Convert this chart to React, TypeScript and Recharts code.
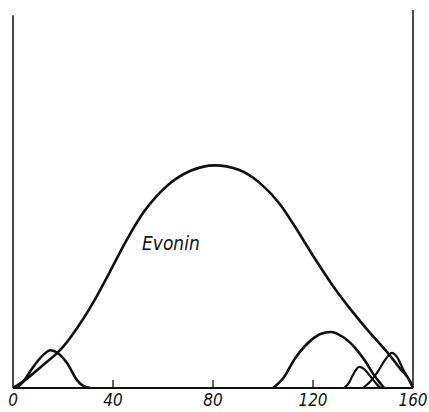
import { LineChart, Line, XAxis, YAxis, ReferenceLine } from 'recharts';

// Evonin main band
const evonin = [
    { x: 0, y: 0 },
    { x: 4, y: 1.7 },
    { x: 8, y: 3.8 },
    { x: 13, y: 6.6 },
    { x: 18, y: 9.5 },
    { x: 20, y: 10.9 },
    { x: 26.8, y: 17 },
    { x: 33.6, y: 24.4 },
    { x: 38.8, y: 30.8 },
    { x: 45.6, y: 39.3 },
    { x: 52, y: 46.3 },
    { x: 57, y: 50.4 },
    { x: 62, y: 53.7 },
    { x: 70.8, y: 57.4 },
    { x: 80.8, y: 58.9 },
    { x: 90, y: 57.8 },
    { x: 98.8, y: 54.2 },
    { x: 106.8, y: 48.6 },
    { x: 112, y: 43.5 },
    { x: 120, y: 35 },
    { x: 128, y: 27 },
    { x: 136, y: 20 },
    { x: 142.8, y: 14.6 },
    { x: 149, y: 10 },
    { x: 155, y: 5 },
    { x: 159, y: 1.6 },
    { x: 160, y: 0 },
];

// small side bands
const peakA = [
    { x: 2, y: 0.3 },
    { x: 4, y: 1.6 },
    { x: 8, y: 5.5 },
    { x: 12, y: 8.7 },
    { x: 15, y: 10 },
    { x: 18, y: 9.2 },
    { x: 21.6, y: 6.6 },
    { x: 25.6, y: 2.1 },
    { x: 28, y: 0.6 },
    { x: 31, y: 0 },
];

const peakB = [
    { x: 104, y: 0 },
    { x: 108, y: 2.5 },
    { x: 113, y: 8 },
    { x: 119.5, y: 12.8 },
    { x: 123, y: 14.3 },
    { x: 127, y: 14.8 },
    { x: 132, y: 13.5 },
    { x: 137, y: 10.5 },
    { x: 141, y: 7 },
    { x: 144, y: 3.8 },
    { x: 147, y: 1.2 },
    { x: 148.5, y: 0 },
];

const peakC = [
    { x: 132.5, y: 0 },
    { x: 134.5, y: 1.5 },
    { x: 136, y: 3.5 },
    { x: 138.5, y: 5.6 },
    { x: 140.5, y: 5 },
    { x: 142.8, y: 3.2 },
    { x: 145.5, y: 1 },
    { x: 147, y: 0 },
];

const peakD = [
    { x: 140, y: 0 },
    { x: 143, y: 1.8 },
    { x: 145.6, y: 4 },
    { x: 148.8, y: 7.4 },
    { x: 151.6, y: 9.3 },
    { x: 153.6, y: 8.2 },
    { x: 156, y: 5 },
    { x: 158.5, y: 2 },
    { x: 160, y: 0 },
];

const xTicks = [0, 40, 80, 120, 160];

const ink = '#111';
const labelFont = "'DejaVu Sans Condensed', 'Liberation Sans Narrow', sans-serif";

const Tick = (props: any) => {
    const { x, y, payload } = props;
    const inner = payload.value > 0 && payload.value < 160;
    return (
        <g>
            {inner && <line x1={x} y1={y} x2={x} y2={y - 8} stroke={ink} strokeWidth={1.3} />}
            <text
                x={x}
                y={y + 18}
                textAnchor="middle"
                fontFamily={labelFont}
                fontStyle="italic"
                fontSize={17}
                fill={ink}
            >
                {payload.value}
            </text>
        </g>
    );
};

const lineProps = {
    type: 'monotone' as const,
    dataKey: 'y',
    stroke: ink,
    strokeWidth: 2.6,
    dot: false,
    activeDot: false,
    isAnimationActive: false,
};

export default function App() {
    return (
        <div style={{ position: 'absolute', left: 0, top: 0, background: '#fff' }}>
            <LineChart width={429} height={412} margin={{ top: 10, right: 16, bottom: 0, left: 13 }}>
                <XAxis
                    type="number"
                    dataKey="x"
                    domain={[0, 160]}
                    ticks={xTicks}
                    height={24}
                    tickSize={0}
                    tickMargin={0}
                    tickLine={false}
                    axisLine={{ stroke: ink, strokeWidth: 2 }}
                    tick={<Tick />}
                    allowDataOverflow
                />
                <YAxis type="number" domain={[0, 100]} hide />
                <ReferenceLine segment={[{ x: 0, y: 0 }, { x: 0, y: 98.6 }]} stroke={ink} strokeWidth={1.5} />
                <ReferenceLine segment={[{ x: 160, y: 0 }, { x: 160, y: 100 }]} stroke={ink} strokeWidth={1.5} />
                <Line {...lineProps} data={evonin} name="Evonin" />
                <Line {...lineProps} data={peakA} name="A" />
                <Line {...lineProps} data={peakB} name="B" />
                <Line {...lineProps} data={peakC} name="C" strokeWidth={2.2} />
                <Line {...lineProps} data={peakD} name="D" strokeWidth={2.2} />
                <text
                    x={142}
                    y={250}
                    fontFamily={labelFont}
                    fontStyle="italic"
                    fontSize={19}
                    fill={ink}
                >
                    Evonin
                </text>
            </LineChart>
        </div>
    );
}
